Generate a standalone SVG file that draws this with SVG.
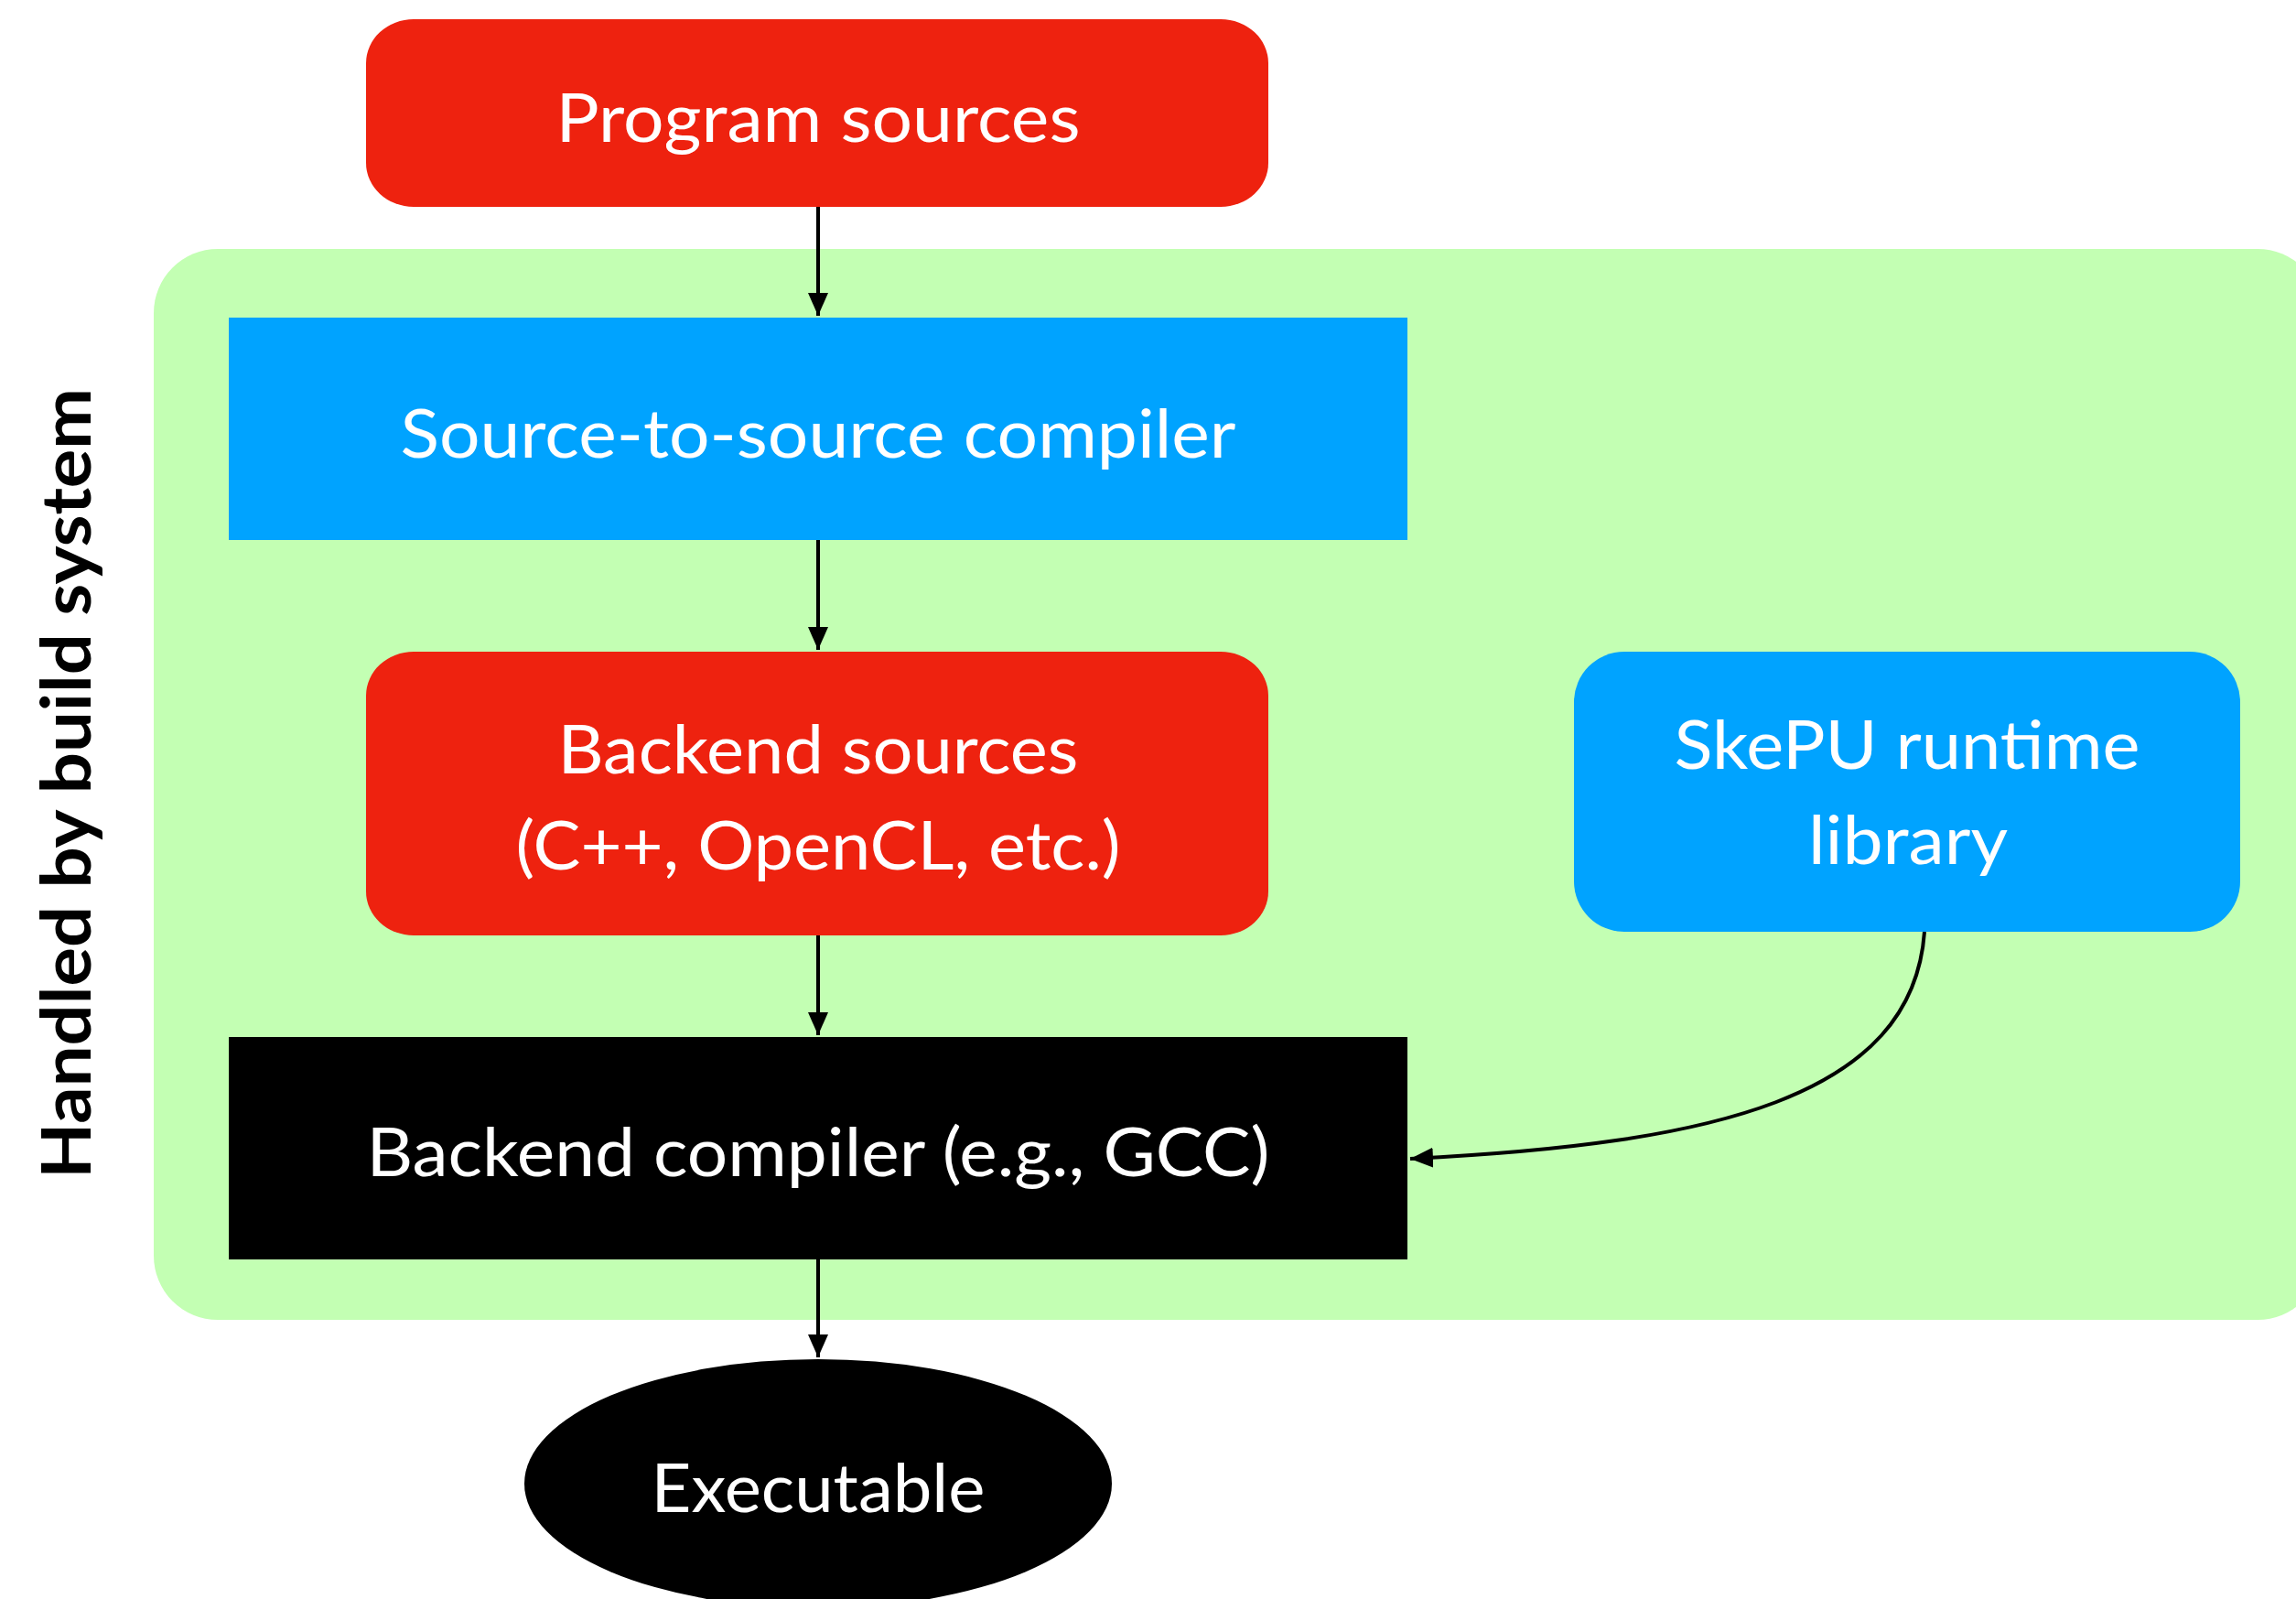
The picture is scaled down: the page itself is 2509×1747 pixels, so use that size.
<svg xmlns="http://www.w3.org/2000/svg" width="2509" height="1747" viewBox="0 0 2509 1747">
<style>
.lbl{font-family:Lato,"Open Sans","Liberation Sans",sans-serif;font-size:74px;fill:#ffffff;text-anchor:middle}
.side{font-family:Lato,"Open Sans","Liberation Sans",sans-serif;font-size:74px;font-weight:bold;fill:#000000;text-anchor:middle}
.red{fill:#EE220F}
.blue{fill:#00A3FF}
.blk{fill:#000000}
.edge{fill:none;stroke:#000000;stroke-width:4}
</style>
<defs>
<marker id="arr" markerUnits="userSpaceOnUse" markerWidth="26" markerHeight="24" refX="25" refY="11" orient="auto">
<path d="M0,0 L25,11 L0,22 z" fill="#000000"/>
</marker>
</defs>
<rect width="2509" height="1747" fill="#ffffff"/>
<g id="build-system">
<rect x="168" y="272" width="2369" height="1170" rx="70" ry="70" fill="#C3FFB3"/>
<text class="side" transform="translate(99,856) rotate(-90)" textLength="864" lengthAdjust="spacingAndGlyphs">Handled by build system</text>
</g>
<g id="connectors">
<line class="edge" x1="894" y1="226" x2="894" y2="345" marker-end="url(#arr)"/>
<line class="edge" x1="894" y1="590" x2="894" y2="710" marker-end="url(#arr)"/>
<line class="edge" x1="894" y1="1022" x2="894" y2="1131" marker-end="url(#arr)"/>
<line class="edge" x1="894" y1="1376" x2="894" y2="1483" marker-end="url(#arr)"/>
<path class="edge" d="M2103,1018 C2090,1200 1870,1250 1541,1266" marker-end="url(#arr)"/>
</g>
<g id="program-sources">
<rect class="red" x="400" y="21" width="986" height="205" rx="52" ry="48"/>
<text class="lbl" x="894" y="155" textLength="573" lengthAdjust="spacingAndGlyphs">Program sources</text>
</g>
<g id="source-to-source-compiler">
<rect class="blue" x="250" y="347" width="1288" height="243"/>
<text class="lbl" x="894" y="500" textLength="913" lengthAdjust="spacingAndGlyphs">Source-to-source compiler</text>
</g>
<g id="backend-sources">
<rect class="red" x="400" y="712" width="986" height="310" rx="52" ry="48"/>
<text class="lbl" x="894" y="845" textLength="569" lengthAdjust="spacingAndGlyphs">Backend sources</text>
<text class="lbl" x="894" y="950" textLength="661" lengthAdjust="spacingAndGlyphs">(C++, OpenCL, etc.)</text>
</g>
<g id="skepu-runtime-library">
<rect class="blue" x="1720" y="712" width="728" height="306" rx="55" ry="55"/>
<text class="lbl" x="2084" y="840" textLength="509" lengthAdjust="spacingAndGlyphs">SkePU runtime</text>
<text class="lbl" x="2085" y="944" textLength="218" lengthAdjust="spacingAndGlyphs">library</text>
</g>
<g id="backend-compiler">
<rect class="blk" x="250" y="1133" width="1288" height="243"/>
<text class="lbl" x="894" y="1285" textLength="987" lengthAdjust="spacingAndGlyphs">Backend compiler (e.g., GCC)</text>
</g>
<g id="executable">
<ellipse class="blk" cx="894" cy="1621" rx="321" ry="136"/>
<text class="lbl" x="894" y="1652" textLength="365" lengthAdjust="spacingAndGlyphs">Executable</text>
</g>
</svg>
